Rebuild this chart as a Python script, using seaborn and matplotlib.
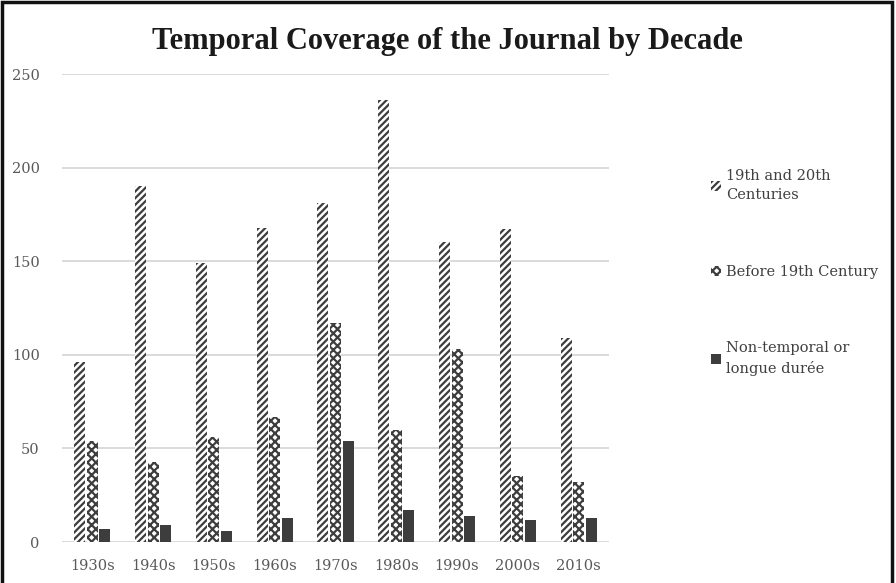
import matplotlib
matplotlib.use("Agg")
import matplotlib.pyplot as plt
import seaborn as sns
import pandas as pd
from matplotlib.patches import Rectangle

decades = ["1930s", "1940s", "1950s", "1960s", "1970s", "1980s", "1990s", "2000s", "2010s"]
series_names = ["19th and 20th\nCenturies", "Before 19th Century", "Non-temporal or\nlongue durée"]
modern = [96, 190, 149, 168, 181, 236, 160, 167, 109]
before_19th = [54, 43, 56, 67, 117, 60, 103, 35, 32]
non_temporal = [7, 9, 6, 13, 54, 17, 14, 12, 13]
y_ticks = [0, 50, 100, 150, 200, 250]

df = pd.DataFrame({
    "decade": decades * 3,
    "series": [series_names[0]] * 9 + [series_names[1]] * 9 + [series_names[2]] * 9,
    "count": modern + before_19th + non_temporal,
})

sns.set_theme(style="white")
plt.rcParams["font.family"] = ["DejaVu Serif"]
plt.rcParams["hatch.linewidth"] = 1.6

fig = plt.figure(figsize=(8.96, 5.83), dpi=100)
ax = fig.add_axes([62 / 896, 1 - 542 / 583, (609 - 62) / 896, (542 - 74) / 583])

dark = "#3d3d3d"
sns.barplot(data=df, x="decade", y="count", hue="series", hue_order=series_names,
            palette=["white", "white", dark], width=0.62, gap=0.12,
            errorbar=None, ax=ax, legend=False, zorder=3)

hatches = ["/////", "xxxx", None]
for cont, h in zip(ax.containers, hatches):
    for bar in cont:
        if h:
            bar.set_hatch(h)
        bar.set_edgecolor(dark)
        bar.set_linewidth(0)

ax.set_ylim(0, 250)
ax.set_yticks(y_ticks)
ax.yaxis.grid(True, color="#d4d4d4", linewidth=1.2, zorder=0)
ax.set_axisbelow(True)
for s in ax.spines.values():
    s.set_visible(False)
ax.set_xlabel("")
ax.set_ylabel("")
ax.tick_params(axis="both", length=0, labelsize=10.5, labelcolor="#595959")
ax.tick_params(axis="x", pad=12)
ax.tick_params(axis="y", pad=16)

handles = [c[0] for c in ax.containers]
leg = fig.legend(handles, series_names,
                 loc="upper left", bbox_to_anchor=(698 / 896, 1 - 156 / 583),
                 frameon=False, fontsize=10.5, labelcolor="#404040",
                 handlelength=0.7, handleheight=0.7, handletextpad=0.3,
                 labelspacing=4.3)
for t in leg.get_texts():
    t.set_linespacing(1.45)

fig.suptitle("Temporal Coverage of the Journal by Decade", x=447 / 896, y=1 - 27 / 583,
             va="top", fontsize=22, fontweight="bold", family="Liberation Serif", color="#1a1a1a")

# frame around the chart
fig.patches.append(Rectangle((0.002, -0.01), 0.994, 1.006, transform=fig.transFigure,
                             fill=False, edgecolor="#111111", linewidth=2.5))

fig.savefig("out.png", dpi=100)
